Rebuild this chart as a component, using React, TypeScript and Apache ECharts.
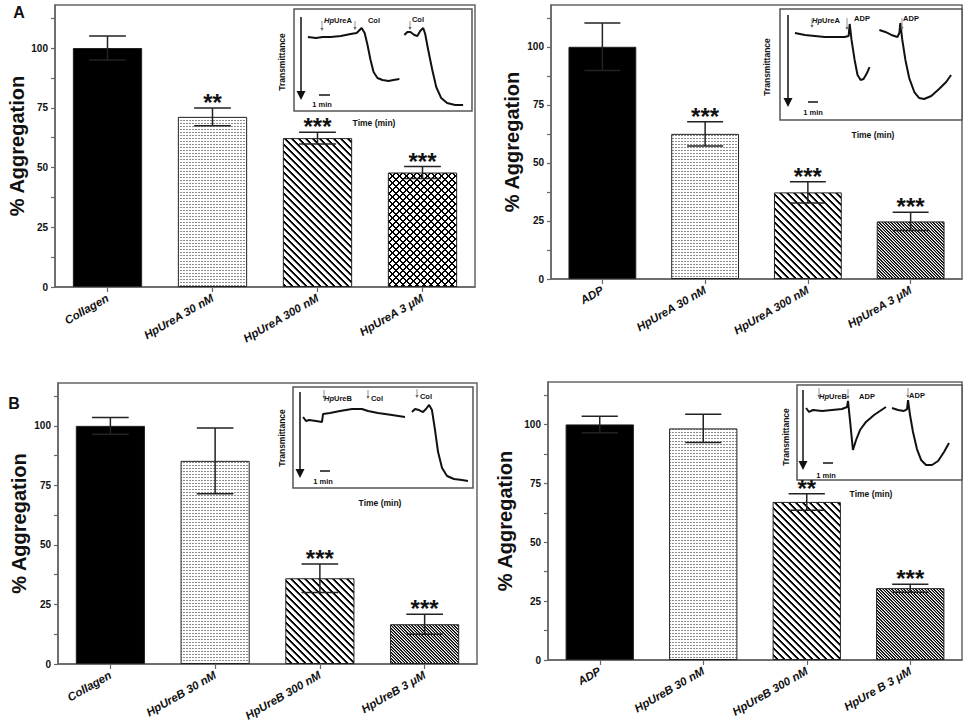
import React, { useEffect, useRef } from 'react';
import * as echarts from 'echarts';

const FONT = '"Liberation Sans", Arial, Helvetica, sans-serif';

// ---------- Data ----------
const catsA1 = ['Collagen', 'HpUreA 30 nM', 'HpUreA 300 nM', 'HpUreA 3 μM'];
const meanA1 = [100, 71.2, 62.3, 47.9];
const errA1 = [5, 3.7, 2.5, 2.5];
const starsA1 = ['', '**', '***', '***'];

const catsA2 = ['ADP', 'HpUreA 30 nM', 'HpUreA 300 nM', 'HpUreA 3 μM'];
const meanA2 = [100, 62.5, 37.3, 24.8];
const errA2 = [10.2, 5.2, 4.6, 3.9];
const starsA2 = ['', '***', '***', '***'];

const catsB1 = ['Collagen', 'HpUreB 30 nM', 'HpUreB 300 nM', 'HpUreB 3 μM'];
const meanB1 = [100, 85.3, 36.0, 16.7];
const errB1 = [3.5, 13.8, 6.0, 4.2];
const starsB1 = ['', '', '***', '***'];

const catsB2 = ['ADP', 'HpUreB 30 nM', 'HpUreB 300 nM', 'HpUre B 3 μM'];
const meanB2 = [100, 98.3, 67.1, 30.5];
const errB2 = [3.5, 6.0, 3.5, 1.7];
const starsB2 = ['', '', '**', '***'];

const yTickValues = [0, 12.5, 25, 37.5, 50, 62.5, 75, 87.5, 100, 112.5];
const yLabelValues = [0, 25, 50, 75, 100];

// inset traces (arbitrary units, 0-100 in both directions)
const traceA1a = [[7.8,72.5],[12.3,71.6],[16.2,72.5],[20.7,72.5],[26.3,73.5],[31.8,75.5],[35.2,76.5],[36.3,78.4],[38.0,81.4],[39.7,76.5],[41.3,64.7],[43.0,50.0],[44.7,38.2],[46.9,32.4],[49.7,30.4],[53.1,29.4],[55.9,30.4],[59.2,31.4]];
const traceA1b = [[62.0,74.5],[63.7,77.5],[65.4,77.5],[67.6,74.5],[69.3,73.5],[70.9,78.4],[72.6,81.4],[73.7,75.5],[75.4,59.8],[77.7,40.2],[79.9,23.5],[82.7,12.7],[86.0,7.8],[90.5,5.9],[95.0,5.9]];
const traceA2a = [[8.2,78.4],[13.7,76.6],[19.1,75.7],[24.6,74.8],[30.1,74.8],[35.5,74.8],[37.7,75.7],[38.3,86.5],[39.3,72.1],[41.0,54.1],[42.6,40.5],[44.3,36.0],[45.9,36.9],[47.5,41.4],[49.2,47.7]];
const traceA2b = [[54.6,81.1],[57.9,79.3],[61.2,76.6],[64.5,74.8],[65.6,78.4],[66.1,87.4],[67.2,72.1],[68.9,54.1],[71.0,37.8],[73.8,25.2],[76.5,19.8],[79.2,18.9],[83.1,21.6],[87.4,27.9],[91.3,34.2],[94.0,40.5]];
const traceB1a = [[5.6,70.3],[7.2,66.3],[8.9,67.3],[12.8,66.3],[16.1,65.3],[16.7,73.3],[20.6,74.3],[26.1,76.2],[32.8,78.2],[38.3,78.2],[41.7,76.2],[47.2,74.3],[55.0,72.3],[62.2,70.3]];
const traceB1b = [[66.1,75.2],[67.8,78.2],[70.0,77.2],[72.2,75.2],[73.9,78.2],[75.6,82.2],[77.2,77.2],[78.9,57.4],[80.6,35.6],[82.8,19.8],[85.6,11.9],[89.4,8.9],[93.9,7.9],[97.2,6.9]];
const traceB2a = [[5.5,75.8],[7.3,71.6],[9.7,73.7],[15.2,72.6],[21.2,73.7],[27.3,74.7],[30.3,76.8],[30.9,83.2],[32.1,63.2],[33.3,42.1],[33.9,31.6],[35.8,42.1],[38.2,52.6],[41.8,61.1],[46.7,68.4],[53.9,76.8]];
const traceB2b = [[57.6,75.8],[61.2,73.7],[64.8,72.6],[66.7,74.7],[67.3,84.2],[68.5,68.4],[70.3,50.5],[72.7,32.6],[75.2,21.1],[78.2,15.8],[81.8,15.8],[85.5,20.0],[89.1,29.5],[92.1,38.9]];

// ---------- Patterns ----------
function makeTile(w: number, h: number, fn: (x: number, y: number) => string | null) {
  const c = document.createElement('canvas');
  c.width = w; c.height = h;
  const ctx = c.getContext('2d')!;
  ctx.fillStyle = '#fff';
  ctx.fillRect(0, 0, w, h);
  for (let y = 0; y < h; y++) for (let x = 0; x < w; x++) {
    const col = fn(x, y);
    if (col) { ctx.fillStyle = col; ctx.fillRect(x, y, 1, 1); }
  }
  return { image: c, repeat: 'repeat', imageWidth: w, imageHeight: h } as any;
}
const mod = (a: number, n: number) => ((a % n) + n) % n;

// ---------- Layouts ----------
type Inset = {
  box: [number, number, number, number];
  arrowX: number; arrowY: [number, number];
  trans: [number, number]; time: [number, number];
  bar: [number, number, number]; minLbl: [number, number];
  labels: { t: string; x: number; y: number }[];
  marks: { x: number; y1: number; y2: number }[];
  traces: number[][][];
};

const insets: Inset[] = [
  { box: [294, 9, 178, 102], arrowX: 301, arrowY: [17, 100], trans: [282, 62], time: [374, 123], bar: [319, 330, 95], minLbl: [322, 104],
    labels: [{ t: 'HpUreA', x: 338, y: 20 }, { t: 'Col', x: 374, y: 20 }, { t: 'Col', x: 418, y: 19 }],
    marks: [{ x: 322, y1: 21, y2: 31 }, { x: 355, y1: 21, y2: 30 }, { x: 410, y1: 21, y2: 30 }], traces: [traceA1a, traceA1b] },
  { box: [780, 9, 182, 111], arrowX: 788, arrowY: [15, 107], trans: [767, 67], time: [873, 135], bar: [808, 818, 102], minLbl: [813, 112],
    labels: [{ t: 'HpUreA', x: 826, y: 20 }, { t: 'ADP', x: 862, y: 18 }, { t: 'ADP', x: 911, y: 18 }],
    marks: [{ x: 812, y1: 18, y2: 28 }, { x: 847, y1: 18, y2: 30 }, { x: 902, y1: 18, y2: 30 }], traces: [traceA2a, traceA2b] },
  { box: [293, 387, 180, 101], arrowX: 300, arrowY: [392, 478], trans: [282, 438], time: [380, 503], bar: [320, 330, 471], minLbl: [323, 481],
    labels: [{ t: 'HpUreB', x: 338, y: 398 }, { t: 'Col', x: 377, y: 398 }, { t: 'Col', x: 426, y: 396 }],
    marks: [{ x: 324, y1: 390, y2: 399 }, { x: 368, y1: 390, y2: 399 }, { x: 417, y1: 389, y2: 398 }], traces: [traceB1a, traceB1b] },
  { box: [797, 385, 165, 95], arrowX: 803, arrowY: [390, 470], trans: [786, 437], time: [871, 494], bar: [823, 833, 463], minLbl: [826, 475],
    labels: [{ t: 'HpUreB', x: 833, y: 396 }, { t: 'ADP', x: 867, y: 396 }, { t: 'ADP', x: 917, y: 395 }],
    marks: [{ x: 819, y1: 388, y2: 398 }, { x: 848, y1: 389, y2: 399 }, { x: 908, y1: 388, y2: 398 }], traces: [traceB2a, traceB2b] },
];

const mains = [
  { left: 55, top: 5, width: 420, height: 282, nameGap: 28, cats: catsA1, mean: meanA1, err: errA1, stars: starsA1, last: 'cross' },
  { left: 551, top: 5, width: 411, height: 274, nameGap: 29, cats: catsA2, mean: meanA2, err: errA2, stars: starsA2, last: 'dense' },
  { left: 58, top: 383, width: 419, height: 281, nameGap: 29, cats: catsB1, mean: meanB1, err: errB1, stars: starsB1, last: 'dense' },
  { left: 548, top: 382, width: 414, height: 278, nameGap: 33, cats: catsB2, mean: meanB2, err: errB2, stars: starsB2, last: 'dense' },
];

function txt(text: string, x: number, y: number, size: number, extra: any = {}) {
  return {
    type: 'text', x, y, z: 20,
    style: { text, fontSize: size, fontWeight: 'bold', fontFamily: FONT, fill: '#111', align: 'center', verticalAlign: 'middle', ...extra },
  };
}

function insetGraphics(L: Inset) {
  const els: any[] = [];
  const ax = L.arrowX, ay2 = L.arrowY[1];
  els.push({ type: 'line', z: 20, shape: { x1: ax, y1: L.arrowY[0], x2: ax, y2: ay2 - 6 }, style: { stroke: '#111', lineWidth: 1.5 } });
  els.push({ type: 'polygon', z: 20, shape: { points: [[ax - 4.5, ay2 - 9], [ax + 4.5, ay2 - 9], [ax, ay2]] }, style: { fill: '#111' } });
  els.push({ ...txt('Transmittance', L.trans[0], L.trans[1], 8.5), rotation: Math.PI / 2 });
  els.push(txt('Time (min)', L.time[0], L.time[1], 8.5));
  els.push({ type: 'line', z: 20, shape: { x1: L.bar[0], y1: L.bar[2], x2: L.bar[1], y2: L.bar[2] }, style: { stroke: '#111', lineWidth: 1.5 } });
  els.push(txt('1 min', L.minLbl[0], L.minLbl[1], 7.5));
  L.labels.forEach((lb) => {
    if (lb.t.startsWith('Hp')) {
      els.push(txt('{i|Hp}' + lb.t.slice(2), lb.x, lb.y, 7.5, {
        rich: { i: { fontStyle: 'italic', fontWeight: 'bold', fontSize: 7.5, fontFamily: FONT, fill: '#111' } },
      }));
    } else {
      els.push(txt(lb.t, lb.x, lb.y, 7.5));
    }
  });
  L.marks.forEach((m) => {
    els.push({ type: 'line', z: 20, shape: { x1: m.x, y1: m.y1, x2: m.x, y2: m.y2 - 2 }, style: { stroke: '#777', lineWidth: 0.8 } });
    els.push({ type: 'polygon', z: 20, shape: { points: [[m.x - 1.6, m.y2 - 3], [m.x + 1.6, m.y2 - 3], [m.x, m.y2]] }, style: { fill: '#666' } });
  });
  return els;
}

export default function App() {
  const ref = useRef<HTMLDivElement>(null);
  useEffect(() => {
    if (!ref.current) return;
    const chart = echarts.init(ref.current, null, { renderer: 'svg', width: 964, height: 724 });

    const black = '#000';
    const stipple = makeTile(3, 3, (x, y) => (y === 0 && x < 2 ? '#8c8c8c' : null));
    const hatch = makeTile(7, 7, (x, y) => { const d = mod(y - x, 7); return d < 2 ? '#000' : d === 2 ? '#777' : null; });
    const cross = makeTile(7, 7, (x, y) => (mod(y - x, 7) < 2 || mod(x + y, 7) < 2 ? '#000' : null));
    const dense = makeTile(6, 6, (x, y) => { const d = mod(y - x, 3); return d === 0 ? '#000' : d === 1 ? ((x + y) % 2 === 0 ? '#333' : '#999') : null; });

    const grids: any[] = [];
    const xAxes: any[] = [];
    const yAxes: any[] = [];
    const series: any[] = [];
    const axisLine = { show: true, lineStyle: { color: '#666', width: 1.5 } };

    mains.forEach((p, k) => {
      grids.push({ left: p.left, top: p.top, width: p.width, height: p.height, show: true, borderColor: '#666', borderWidth: 1.5, backgroundColor: 'transparent' });
      xAxes.push({
        type: 'category', gridIndex: k, data: p.cats,
        axisLine, axisTick: { show: true, alignWithLabel: true, length: 5, lineStyle: { color: '#666', width: 1.2 } },
        axisLabel: { rotate: 30, margin: 10, interval: 0, fontSize: 11.5, fontWeight: 'bold', fontStyle: 'italic', fontFamily: FONT, color: '#111' },
        splitLine: { show: false },
      });
      yAxes.push({
        type: 'value', gridIndex: k, min: 0, max: 118, interval: 12.5,
        axisLine, splitLine: { show: false },
        axisTick: { show: true, length: 4, customValues: yTickValues, lineStyle: { color: '#666', width: 1.2 } },
        axisLabel: {
          customValues: yLabelValues, margin: 7, fontSize: 10, fontWeight: 'bold', fontFamily: FONT, color: '#111',
          formatter: (v: number) => (v % 25 === 0 ? String(v) : ''),
        },
        name: '% Aggregation', nameLocation: 'middle', nameGap: p.nameGap,
        nameTextStyle: { fontSize: 20, fontWeight: 'bold', fontFamily: FONT, color: '#111' },
      });
      const fills = [black, stipple, hatch, p.last === 'cross' ? cross : dense];
      series.push({
        type: 'bar', xAxisIndex: k, yAxisIndex: k, barWidth: '66%', silent: true,
        data: p.mean.map((v, i) => ({ value: v, itemStyle: { color: fills[i], borderColor: '#222', borderWidth: 1 } })),
      });
      const stars = p.stars;
      series.push({
        type: 'custom', xAxisIndex: k, yAxisIndex: k, silent: true, z: 5,
        encode: { x: 0, y: 1 },
        data: p.mean.map((m, i) => [i, m, p.err[i]]),
        renderItem: (params: any, api: any) => {
          const i = api.value(0), m = api.value(1), e = api.value(2);
          const top = api.coord([i, m + e]);
          const bot = api.coord([i, m - e]);
          const bw = api.size([1, 0])[0];
          const half = bw * 0.175;
          const st = { stroke: '#222', lineWidth: 1.5 };
          const children: any[] = [
            { type: 'line', shape: { x1: top[0], y1: top[1], x2: bot[0], y2: bot[1] }, style: st },
            { type: 'line', shape: { x1: top[0] - half, y1: top[1], x2: top[0] + half, y2: top[1] }, style: st },
            { type: 'line', shape: { x1: bot[0] - half, y1: bot[1], x2: bot[0] + half, y2: bot[1] }, style: st },
          ];
          const s = stars[params.dataIndex];
          if (s) {
            children.push({ type: 'text', x: top[0], y: top[1] - 5.5, style: { text: s, fontSize: 24, fontWeight: 'bold', fontFamily: FONT, fill: '#111', align: 'center', verticalAlign: 'middle' } });
          }
          return { type: 'group', children };
        },
      });
    });

    insets.forEach((L, j) => {
      const gi = 4 + j;
      grids.push({ left: L.box[0], top: L.box[1], width: L.box[2], height: L.box[3], show: true, borderColor: '#555', borderWidth: 1.5, backgroundColor: '#fff', z: 3 });
      xAxes.push({ type: 'value', gridIndex: gi, min: 0, max: 100, show: false });
      yAxes.push({ type: 'value', gridIndex: gi, min: 0, max: 100, show: false });
      L.traces.forEach((t) => {
        series.push({ type: 'line', xAxisIndex: gi, yAxisIndex: gi, data: t, showSymbol: false, symbol: 'none', silent: true, z: 6, lineStyle: { color: '#111', width: 2 } });
      });
    });

    const graphic: any[] = [];
    graphic.push(txt('A', 19, 12, 16));
    graphic.push(txt('B', 14, 403, 16));
    insets.forEach((L) => graphic.push(...insetGraphics(L)));

    chart.setOption({
      animation: false,
      backgroundColor: '#fff',
      grid: grids,
      xAxis: xAxes,
      yAxis: yAxes,
      series,
      graphic: { elements: graphic },
    });
    return () => chart.dispose();
  }, []);
  return <div ref={ref} style={{ position: 'absolute', left: 0, top: 0, width: 964, height: 724, background: '#fff' }} />;
}
